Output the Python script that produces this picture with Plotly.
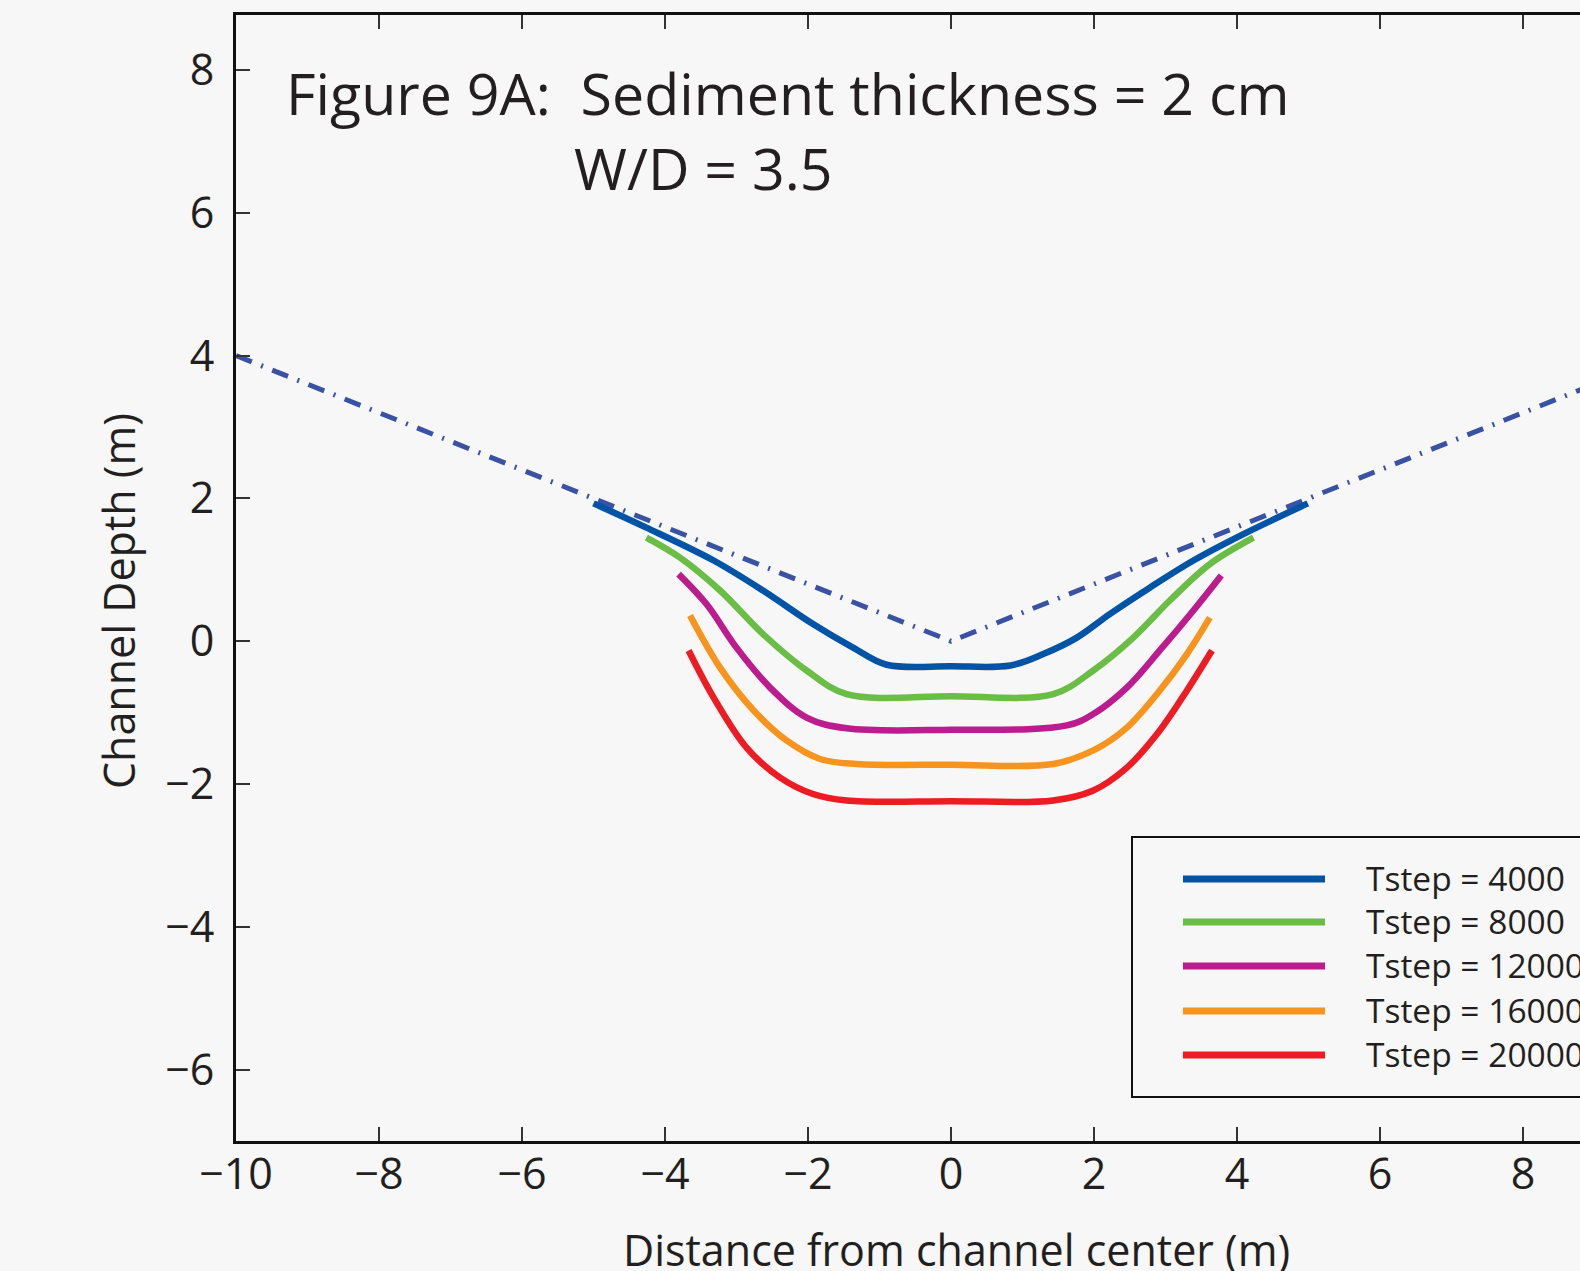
import plotly.graph_objects as go

# ---------------- data ----------------
v_x = [-10, 0, 10]
v_y = [4, 0, 4]

series_names = ["Tstep = 4000", "Tstep = 8000", "Tstep = 12000", "Tstep = 16000", "Tstep = 20000"]
series_colors = ["#0054a6", "#6abd45", "#bb1c8e", "#f7941e", "#ed1c24"]

x_4000 = [-5.00, -4.26, -3.32, -2.63, -1.93, -1.37, -0.90, 0.0, 0.83, 1.29, 1.76, 2.22, 2.78, 3.39, 4.09, 4.99]
y_4000 = [1.93, 1.59, 1.13, 0.71, 0.24, -0.09, -0.33, -0.35, -0.34, -0.18, 0.05, 0.38, 0.75, 1.13, 1.50, 1.93]

x_8000 = [-4.26, -3.79, -3.23, -2.63, -2.02, -1.46, 0.0, 1.43, 1.99, 2.55, 3.06, 3.62, 4.23]
y_8000 = [1.45, 1.17, 0.71, 0.10, -0.41, -0.74, -0.77, -0.74, -0.41, 0.05, 0.57, 1.08, 1.45]

x_12000 = [-3.81, -3.42, -3.00, -2.53, -2.02, -1.46, 0.0, 1.62, 1.99, 2.46, 2.92, 3.39, 3.78]
y_12000 = [0.94, 0.52, -0.09, -0.65, -1.07, -1.22, -1.24, -1.18, -1.02, -0.65, -0.13, 0.43, 0.92]

x_16000 = [-3.65, -3.23, -2.76, -2.30, -1.83, -1.32, 0.0, 1.43, 1.99, 2.46, 2.92, 3.30, 3.62]
y_16000 = [0.36, -0.37, -0.97, -1.39, -1.65, -1.72, -1.73, -1.72, -1.53, -1.21, -0.69, -0.18, 0.33]

x_20000 = [-3.67, -3.32, -2.86, -2.39, -1.93, -1.46, 0.0, 1.43, 1.99, 2.46, 2.92, 3.30, 3.65]
y_20000 = [-0.13, -0.79, -1.49, -1.91, -2.14, -2.23, -2.24, -2.23, -2.09, -1.77, -1.25, -0.69, -0.13]

series_x = [x_4000, x_8000, x_12000, x_16000, x_20000]
series_y = [y_4000, y_8000, y_12000, y_16000, y_20000]

x_ticks = [-10, -8, -6, -4, -2, 0, 2, 4, 6, 8]
y_ticks = [-6, -4, -2, 0, 2, 4, 6, 8]

title_line1 = "Figure 9A:  Sediment thickness = 2 cm"
title_line2 = "W/D = 3.5"
x_title = "Distance from channel center (m)"
y_title = "Channel Depth (m)"

# ---------------- figure ----------------
W, H = 1580, 1271
L, R, T, B = 236, 0, 15, 130
pw, ph = W - L - R, H - T - B

def px(xpix):
    return (xpix - L) / pw

def py(ypix):
    return (H - B - ypix) / ph

FONT = "Open Sans"
BG = "#f7f7f7"
TXT = "#231f20"

fig = go.Figure()

fig.add_trace(go.Scatter(
    x=v_x, y=v_y, mode="lines", showlegend=False, hoverinfo="skip",
    line=dict(color="#3a52a4", width=5, dash="17px,10px,2px,10px"),
))

for name, color, xs, ys in zip(series_names, series_colors, series_x, series_y):
    fig.add_trace(go.Scatter(
        x=xs, y=ys, mode="lines", name=name, showlegend=False,
        line=dict(color=color, width=6.5, shape="spline", smoothing=1.0),
    ))

annotations = [
    dict(text=title_line1, x=px(284), y=py(93), xref="paper", yref="paper",
         xanchor="left", yanchor="middle", showarrow=False,
         font=dict(family=FONT, size=57.3, color=TXT)),
    dict(text=title_line2, x=px(572), y=py(168), xref="paper", yref="paper",
         xanchor="left", yanchor="middle", showarrow=False,
         font=dict(family=FONT, size=57.3, color=TXT)),
    dict(text=x_title, x=px(956), y=py(1249), xref="paper", yref="paper",
         xanchor="center", yanchor="middle", showarrow=False,
         font=dict(family=FONT, size=43, color=TXT)),
    dict(text=y_title, x=px(118), y=py(601), xref="paper", yref="paper",
         xanchor="center", yanchor="middle", showarrow=False, textangle=-90,
         font=dict(family=FONT, size=43, color=TXT)),
]

shapes = [
    dict(type="rect", xref="paper", yref="paper",
         x0=px(1132), x1=px(1600), y0=py(1097), y1=py(837),
         line=dict(color="#111111", width=2), fillcolor=BG, layer="above"),
]

row_y = [879, 922, 966, 1011, 1055]
for name, color, ry in zip(series_names, series_colors, row_y):
    shapes.append(dict(type="line", xref="paper", yref="paper",
                       x0=px(1183), x1=px(1325), y0=py(ry), y1=py(ry),
                       line=dict(color=color, width=7), layer="above"))
    annotations.append(dict(text=name, x=px(1364), y=py(ry - 1), xref="paper", yref="paper",
                            xanchor="left", yanchor="middle", showarrow=False,
                            font=dict(family=FONT, size=33.5, color=TXT)))

fig.update_layout(
    width=W, height=H,
    margin=dict(l=L, r=R, t=T, b=B, pad=0),
    paper_bgcolor=BG, plot_bgcolor=BG,
    font=dict(family=FONT, size=43, color=TXT),
    annotations=annotations, shapes=shapes,
    showlegend=False,
)

fig.update_xaxes(
    range=[-10, -10 + pw / 71.5], tickvals=x_ticks,
    showgrid=False, zeroline=False,
    showline=True, linecolor="#111111", linewidth=3, mirror="ticks",
    ticks="inside", ticklen=14, tickwidth=1.5, tickcolor="#333333",
    tickfont=dict(family=FONT, size=43, color=TXT),
    ticklabelstandoff=-7,
)
fig.update_yaxes(
    range=[-7, -7 + ph / 71.4], tickvals=y_ticks,
    showgrid=False, zeroline=False,
    showline=True, linecolor="#111111", linewidth=3, mirror=False,
    ticks="inside", ticklen=14, tickwidth=1.5, tickcolor="#333333",
    tickfont=dict(family=FONT, size=43, color=TXT),
    ticklabelstandoff=10,
)

fig.write_html("out.html")
